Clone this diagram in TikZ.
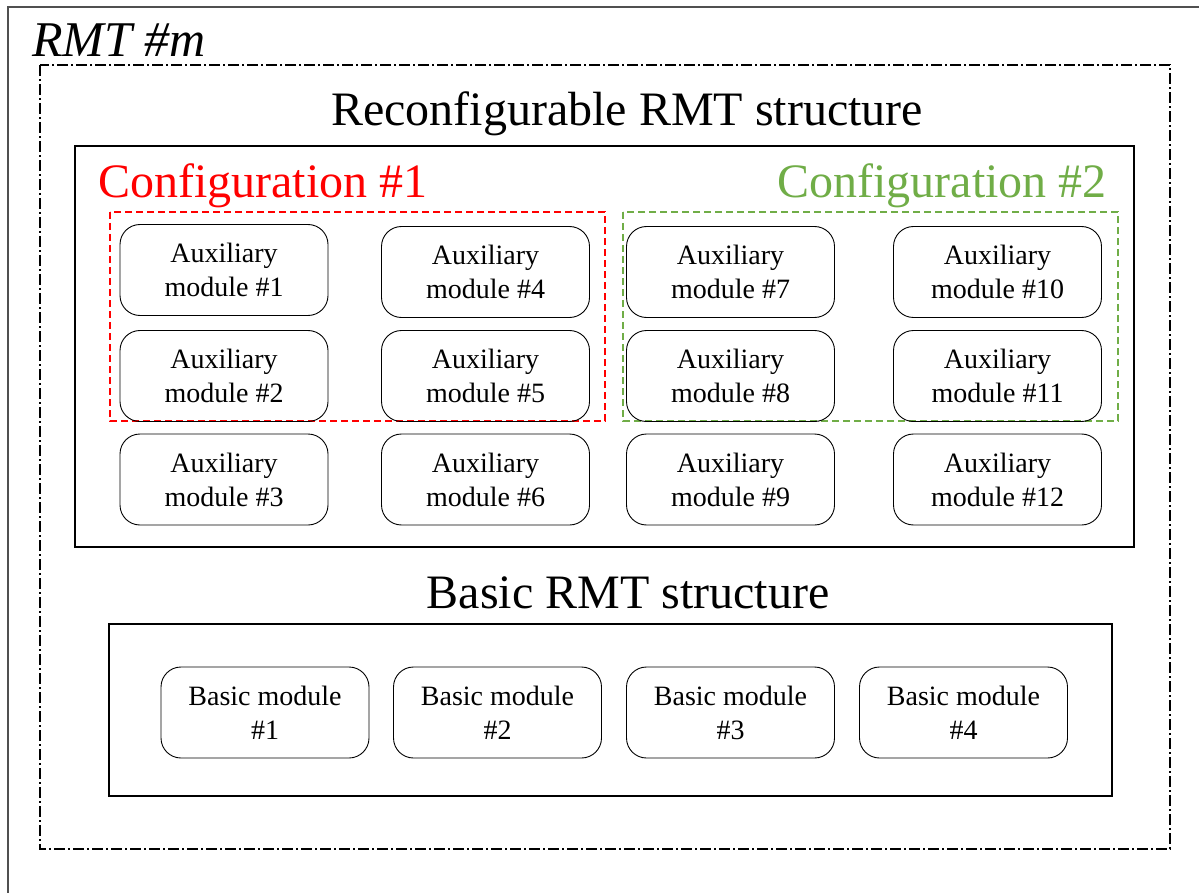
\documentclass[tikz,border=0pt]{standalone}
\usepackage{fontspec}
\setmainfont{Liberation Serif}
\definecolor{cfgred}{HTML}{FF0000}
\definecolor{cfggreen}{HTML}{70AD47}
\definecolor{framegray}{HTML}{505050}
\tikzset{
  module/.style={draw, rounded corners=20pt, minimum width=208pt, minimum height=91pt,
    line width=0.9pt, align=center, inner sep=2pt,
    font=\fontsize{28}{34}\selectfont},
  groupbox/.style={draw, line width=1.1pt},
  cfgbox/.style={draw, line width=1.1pt, dash pattern=on 7pt off 4pt},
  rmtbox/.style={draw, line width=1.1pt, dash pattern=on 11pt off 3pt on 2pt off 3pt},
  bigtitle/.style={inner sep=0pt, font=\fontsize{48}{52}\selectfont},
}
\begin{document}
\begin{tikzpicture}[x=1pt,y=-1pt]
\useasboundingbox (0,0) rectangle (1199,893);
% outer page frame (only its top and left edges fall inside)
\draw[framegray, line width=1.3pt] (8,893) -- (8,7) -- (1199,7);
\node[bigtitle, anchor=base west, font=\fontsize{50}{54}\selectfont\itshape] (rmtlabel) at (32,57) {RMT \#m};
% dash-dotted enclosure of the machine tool
\draw[rmtbox] (40,65) rectangle (1170,849);

% reconfigurable part
\node[bigtitle, anchor=base] (rectitle) at (627,126) {Reconfigurable RMT structure};
\draw[groupbox] (75,146) rectangle (1134,547);
\node[bigtitle, anchor=base west, text=cfgred] (cfg1) at (98,198) {Configuration \#1};
\node[bigtitle, anchor=base east, text=cfggreen] (cfg2) at (1107,198) {Configuration \#2};
\draw[cfgbox, cfgred] (110,212) rectangle (605,421);
\draw[cfgbox, cfggreen] (623,212) rectangle (1118,421);

\node[module] (a1) at (224,270) {Auxiliary\\module \#1};
\node[module] (a2) at (224,376) {Auxiliary\\module \#2};
\node[module] (a3) at (224,479.5) {Auxiliary\\module \#3};
\node[module] (a4) at (485.5,272) {Auxiliary\\module \#4};
\node[module] (a5) at (485.5,376) {Auxiliary\\module \#5};
\node[module] (a6) at (485.5,479.5) {Auxiliary\\module \#6};
\node[module] (a7) at (730.5,272) {Auxiliary\\module \#7};
\node[module] (a8) at (730.5,376) {Auxiliary\\module \#8};
\node[module] (a9) at (730.5,479.5) {Auxiliary\\module \#9};
\node[module] (a10) at (997.5,272) {Auxiliary\\module \#10};
\node[module] (a11) at (997.5,376) {Auxiliary\\module \#11};
\node[module] (a12) at (997.5,479.5) {Auxiliary\\module \#12};

% basic part
\node[bigtitle, anchor=base] (bastitle) at (628,608) {Basic RMT structure};
\draw[groupbox] (109,624) rectangle (1112,796);
\node[module] (b1) at (265,712.5) {Basic module\\\#1};
\node[module] (b2) at (497.5,712.5) {Basic module\\\#2};
\node[module] (b3) at (730.5,712.5) {Basic module\\\#3};
\node[module] (b4) at (963.5,712.5) {Basic module\\\#4};
\end{tikzpicture}
\end{document}
